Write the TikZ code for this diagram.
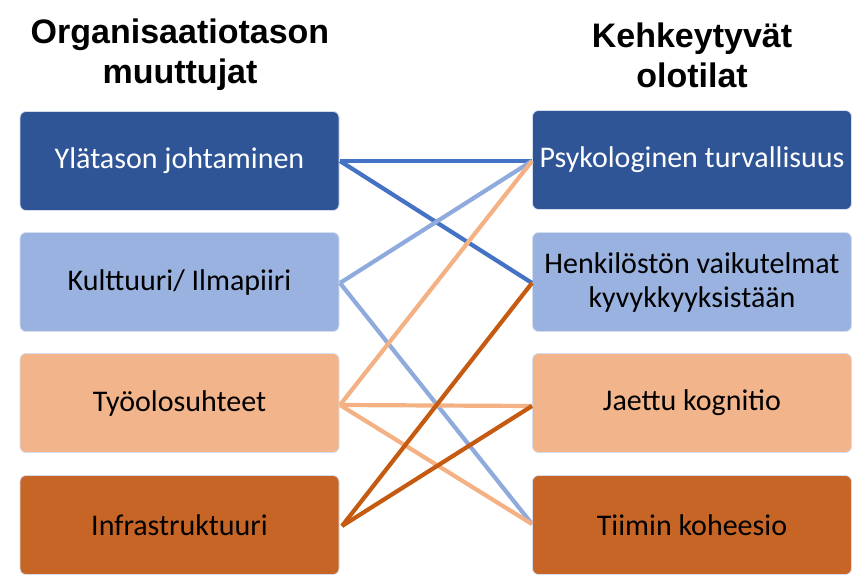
\documentclass[tikz,border=0pt]{standalone}
\usepackage{fontspec}
\setmainfont{Carlito}
\newfontfamily\headfont{Liberation Sans}
\definecolor{dblue}{HTML}{2F5597}
\definecolor{lblue}{HTML}{9AB2DF}
\definecolor{lorange}{HTML}{F2B48A}
\definecolor{dorange}{HTML}{C76526}
\definecolor{lnblue}{HTML}{4472C4}
\definecolor{lnlblue}{HTML}{8FAADC}
\definecolor{lnlorange}{HTML}{F4B183}
\definecolor{lndorange}{HTML}{C55A11}
\definecolor{edgec}{HTML}{D6DEEE}
\begin{document}
\begin{tikzpicture}[x=1pt,y=-1pt,
  box/.style={draw=edgec,line width=0.8pt,rounded corners=6pt,minimum width=319pt,minimum height=99pt,align=center,font=\fontsize{30}{34}\selectfont,inner sep=0pt},
  head/.style={align=center,font=\headfont\bfseries\fontsize{34}{40}\selectfont},
  conn/.style={line width=4.2pt}]
\useasboundingbox (0,0) rectangle (854,576);
\node[head] (h1) at (180,55) {Organisaatiotason\\muuttujat};
\node[head] (h2) at (692,55) {Kehkeytyvät\\olotilat};
\node[box,fill=dblue,text=white] (l1) at (179.5,161) {Ylätason johtaminen};
\node[box,fill=lblue] (l2) at (179.5,282) {Kulttuuri/ Ilmapiiri};
\node[box,fill=lorange] (l3) at (179.5,403) {Työolosuhteet};
\node[box,fill=dorange] (l4) at (179.5,525) {Infrastruktuuri};
\node[box,fill=dblue,text=white] (r1) at (692,160) {Psykologinen turvallisuus};
\node[box,fill=lblue] (r2) at (692,282) {Henkilöstön vaikutelmat\\kyvykkyyksistään};
\node[box,fill=lorange] (r3) at (692,403) {Jaettu kognitio};
\node[box,fill=dorange] (r4) at (692,525) {Tiimin koheesio};
\coordinate (a1) at (340,161);
\coordinate (a2) at (340,283);
\coordinate (a3) at (340,405);
\coordinate (a4) at (342,526);
\coordinate (b1) at (532,161);
\coordinate (b2) at (532,283);
\coordinate (b3) at (532,406);
\coordinate (b4) at (532,524);
\draw[conn,lnblue] (a1) -- (b1);
\draw[conn,lnblue] (a1) -- (b2);
\draw[conn,lnlblue] (a2) -- (b1);
\draw[conn,lnlblue] (a2) -- (b4);
\draw[conn,lnlorange] (a3) -- (b1);
\draw[conn,lnlorange] (a3) -- (b3);
\draw[conn,lnlorange] (a3) -- (b4);
\draw[conn,lndorange] (a4) -- (b2);
\draw[conn,lndorange] (a4) -- (b3);
\end{tikzpicture}
\end{document}
